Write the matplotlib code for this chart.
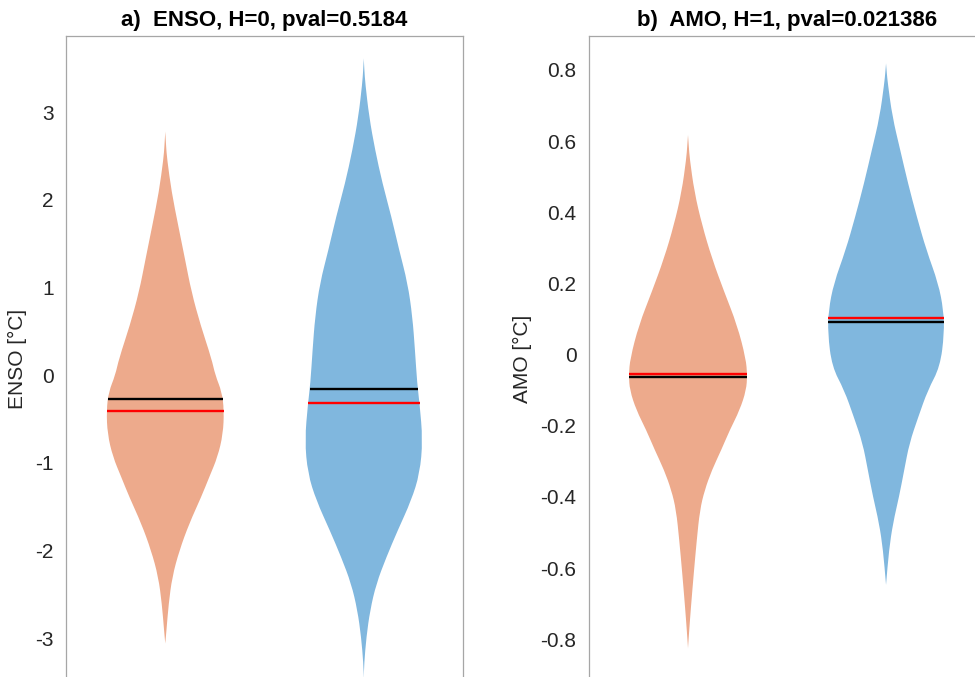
import numpy as np
import matplotlib
matplotlib.use('Agg')
import matplotlib.pyplot as plt
from matplotlib.path import Path
from matplotlib.patches import PathPatch

plt.rcParams['font.family'] = ['Liberation Sans', 'DejaVu Sans']
plt.rcParams['axes.unicode_minus'] = False

# ==========================================
# Datos
# ==========================================

# --- a) ENSO ---
enso_ticks = [-3, -2, -1, 0, 1, 2, 3]
enso_ticklabels = ['-3', '-2', '-1', '0', '1', '2', '3']

# perfil violín 1 (naranja): nivel y semiancho
enso1_y = [2.78, 2.62, 2.47, 2.09, 1.71, 1.33, 0.95, 0.57, 0.19, 0.0,
           -0.19, -0.40, -0.67, -0.93, -1.16, -1.39, -1.69, -2.00,
           -2.30, -2.61, -2.91, -3.06]
enso1_w = [0.0, 0.004, 0.009, 0.032, 0.065, 0.099, 0.132, 0.178, 0.233, 0.252,
           0.285, 0.296, 0.291, 0.264, 0.222, 0.181, 0.121, 0.071,
           0.035, 0.017, 0.006, 0.0]

# perfil violín 2 (azul)
enso2_y = [3.615, 3.48, 3.33, 2.95, 2.57, 2.19, 1.81, 1.43, 1.05, 0.67, 0.285,
           -0.095, -0.32, -0.74, -1.12, -1.43, -1.77, -2.08, -2.38,
           -2.68, -2.99, -3.29, -3.46]
enso2_w = [0.0, 0.003, 0.0076, 0.027, 0.057, 0.094, 0.139, 0.178, 0.221, 0.245, 0.258,
           0.269, 0.281, 0.297, 0.282, 0.239, 0.171, 0.113, 0.063,
           0.032, 0.013, 0.002, 0.0]

enso_black = [-0.266, -0.152]
enso_red = [-0.41, -0.316]

# --- b) AMO ---
amo_ticks = [-0.8, -0.6, -0.4, -0.2, 0, 0.2, 0.4, 0.6, 0.8]
amo_ticklabels = ['-0.8', '-0.6', '-0.4', '-0.2', '0', '0.2', '0.4', '0.6', '0.8']

amo1_y = [0.617, 0.585, 0.551, 0.457, 0.364, 0.270, 0.176, 0.083, -0.011,
          -0.058, -0.100, -0.156, -0.212, -0.268, -0.324, -0.381,
          -0.437, -0.522, -0.615, -0.708, -0.783, -0.825]
amo1_w = [0.0, 0.004, 0.0086, 0.032, 0.071, 0.121, 0.183, 0.248, 0.292,
          0.299, 0.294, 0.261, 0.211, 0.168, 0.121, 0.084,
          0.060, 0.044, 0.029, 0.015, 0.005, 0.0]

amo2_y = [0.818, 0.79, 0.762, 0.668, 0.574, 0.481, 0.386, 0.293, 0.200, 0.125,
          0.060, -0.034, -0.100, -0.175, -0.249, -0.324, -0.399,
          -0.474, -0.549, -0.647]
amo2_w = [0.0, 0.004, 0.009, 0.032, 0.072, 0.111, 0.156, 0.204, 0.264, 0.290,
          0.294, 0.273, 0.211, 0.163, 0.118, 0.092, 0.066,
          0.035, 0.015, 0.0]

amo_black = [-0.063, 0.091]
amo_red = [-0.056, 0.102]

# ==========================================
# Gráfico
# ==========================================

c_orange = '#EDAA8C'
c_blue = '#80B7DE'
c_spine = '#A6A6A6'
c_text = '#262626'

fig = plt.figure(figsize=(9.75, 6.77), dpi=100)

ax1 = fig.add_axes([0.0677, -0.0074, 0.4072, 0.9542])
ax2 = fig.add_axes([0.6041, -0.0074, 0.4062, 0.9542])


def smooth_side(pts):
    # curva cuadrática: los puntos leídos hacen de puntos de control
    verts = [pts[0]]
    codes = [Path.LINETO]
    mids = [((pts[i][0] + pts[i + 1][0]) / 2, (pts[i][1] + pts[i + 1][1]) / 2)
            for i in range(len(pts) - 1)]
    verts.append(mids[0])
    codes.append(Path.LINETO)
    for i in range(1, len(pts) - 1):
        verts += [pts[i], mids[i]]
        codes += [Path.CURVE3, Path.CURVE3]
    verts.append(pts[-1])
    codes.append(Path.LINETO)
    return verts, codes


def violin(ax, pos, y, w, color):
    right = [(pos + wi, yi) for yi, wi in zip(y, w)]
    left = [(pos - wi, yi) for yi, wi in zip(y, w)][::-1]
    v1, c1 = smooth_side(right)
    v2, c2 = smooth_side(left)
    verts = v1 + v2 + [v1[0]]
    codes = [Path.MOVETO] + c1[1:] + c2 + [Path.CLOSEPOLY]
    patch = PathPatch(Path(verts, codes), facecolor=color,
                      edgecolor='none', zorder=2)
    ax.add_patch(patch)


def stat_line(ax, pos, y, w, level, color):
    # semiancho del violín en ese nivel
    yy = np.array(y)[::-1]
    ww = np.array(w)[::-1]
    hw = np.interp(level, yy, ww)
    ax.plot([pos - hw, pos + hw], [level, level], color=color,
            lw=1.7, solid_capstyle='butt', zorder=3)


# ------------------------
# a) ENSO
# ------------------------
violin(ax1, 1, enso1_y, enso1_w, c_orange)
violin(ax1, 2, enso2_y, enso2_w, c_blue)
for i, (yy, ww) in enumerate([(enso1_y, enso1_w), (enso2_y, enso2_w)]):
    stat_line(ax1, i + 1, yy, ww, enso_red[i], 'red')
    stat_line(ax1, i + 1, yy, ww, enso_black[i], 'black')

ax1.set_ylim(-3.5, 3.87)
ax1.set_yticks(enso_ticks)
ax1.set_yticklabels(enso_ticklabels)
ax1.set_ylabel('ENSO [°C]', fontsize=15, color=c_text, labelpad=6)
ax1.set_title('a)  ENSO, H=0, pval=0.5184', fontsize=16,
              fontweight='bold', pad=7)

# ------------------------
# b) AMO
# ------------------------
violin(ax2, 1, amo1_y, amo1_w, c_orange)
violin(ax2, 2, amo2_y, amo2_w, c_blue)
for i, (yy, ww) in enumerate([(amo1_y, amo1_w), (amo2_y, amo2_w)]):
    stat_line(ax2, i + 1, yy, ww, amo_red[i], 'red')
    stat_line(ax2, i + 1, yy, ww, amo_black[i], 'black')

ax2.set_ylim(-0.92, 0.895)
ax2.set_yticks(amo_ticks)
ax2.set_yticklabels(amo_ticklabels)
ax2.set_ylabel('AMO [°C]', fontsize=15, color=c_text, labelpad=6)
ax2.set_title('b)  AMO, H=1, pval=0.021386', fontsize=16,
              fontweight='bold', pad=7)

# ------------------------
# Formato común
# ------------------------
for ax in (ax1, ax2):
    ax.set_xlim(0.5, 2.5)
    ax.set_xticks([])
    ax.tick_params(axis='y', length=0, pad=9, labelsize=15,
                   labelcolor=c_text)
    for s in ax.spines.values():
        s.set_color(c_spine)
        s.set_linewidth(0.9)

fig.savefig('out.png', dpi=100)
